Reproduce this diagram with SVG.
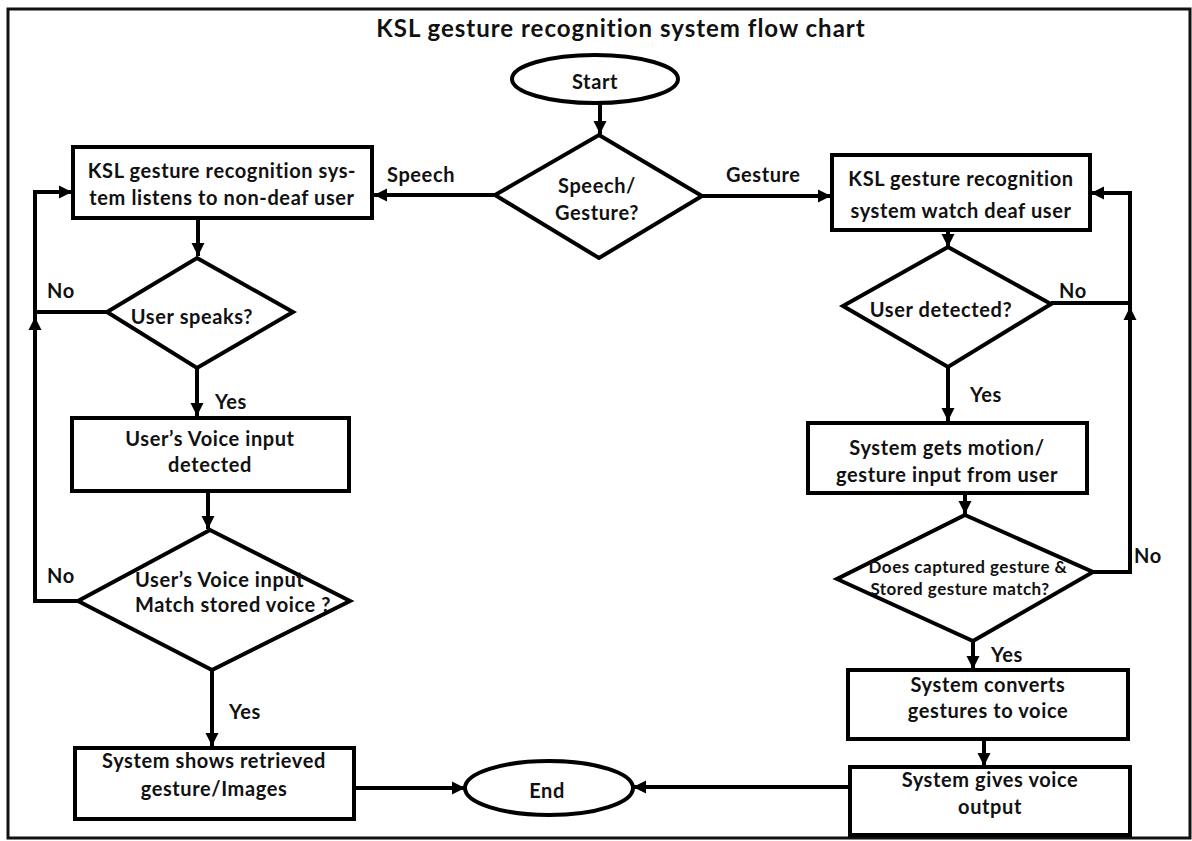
<svg xmlns="http://www.w3.org/2000/svg" width="1192" height="841" viewBox="0 0 1192 841">
<defs>
<marker id="ah" markerUnits="userSpaceOnUse" markerWidth="14" markerHeight="14" refX="13" refY="7" orient="auto" viewBox="0 0 14 14">
<path d="M0,0.5 L13,7 L0,13.5 z" fill="#000"/>
</marker>
<style>
.sh{fill:#fff;stroke:#000;stroke-width:4;stroke-linejoin:miter}
.cn{fill:none;stroke:#000;stroke-width:4}
.ar{marker-end:url(#ah)}
text{font-family:Lato,"Open Sans","Liberation Sans",sans-serif;font-weight:bold;fill:#111;font-size:20px;letter-spacing:0.6px}
.c{text-anchor:middle}
.t{font-size:24px;letter-spacing:1px}
.s{font-size:17px;letter-spacing:0.5px}
</style>
</defs>
<rect x="0" y="0" width="1192" height="841" fill="#fff"/>
<rect x="8" y="9" width="1182" height="829" fill="none" stroke="#111" stroke-width="3"/>
<text class="t c" x="621" y="37">KSL gesture recognition system flow chart</text>

<g id="connectors">
<path class="cn ar" d="M600,103 V134"/>
<path class="cn ar" d="M495,195 H374"/>
<path class="cn ar" d="M702,196 H831"/>
<path class="cn ar" d="M198,218 V256"/>
<path class="cn ar" d="M197,368 V416"/>
<path class="cn ar" d="M208,491 V529"/>
<path class="cn ar" d="M212,670 V746"/>
<path class="cn ar" d="M354,788 H465"/>
<path class="cn" d="M107,312 H35"/>
<path class="cn ar" d="M78,601 H35 V317"/>
<path class="cn ar" d="M35,317 V192 H72"/>
<path class="cn ar" d="M948,230 V247"/>
<path class="cn ar" d="M948,368 V421"/>
<path class="cn ar" d="M965,493 V514"/>
<path class="cn ar" d="M973,642 V669"/>
<path class="cn ar" d="M984,739 V766"/>
<path class="cn ar" d="M850,787 H633"/>
<path class="cn" d="M1051,303 H1130"/>
<path class="cn ar" d="M1093,572 H1130 V307"/>
<path class="cn ar" d="M1130,307 V193 H1091"/>
<text x="387" y="182">Speech</text>
<text x="726" y="182">Gesture</text>
<text x="47" y="298">No</text>
<text x="215" y="409">Yes</text>
<text x="47" y="583">No</text>
<text x="229" y="719">Yes</text>
<text x="1059" y="298">No</text>
<text x="970" y="402">Yes</text>
<text x="1134" y="563">No</text>
<text x="991" y="662">Yes</text>
</g>

<g id="start">
<ellipse class="sh" cx="595" cy="79" rx="83" ry="24"/>
<text class="c" x="595" y="89">Start</text>
</g>

<g id="speech-gesture">
<polygon class="sh" points="599,135 702,196 599,258 495,195"/>
<text class="c" x="597" y="193">Speech/</text>
<text class="c" x="597" y="220">Gesture?</text>
</g>

<g id="listen">
<rect class="sh" x="73" y="147" width="299" height="71"/>
<text class="c" x="222" y="178">KSL gesture recognition sys-</text>
<text class="c" x="222" y="205">tem listens to non-deaf user</text>
</g>

<g id="user-speaks">
<polygon class="sh" points="197,258 293,312 197,368 107,312"/>
<text class="c" x="192" y="324">User speaks?</text>
</g>

<g id="voice-detected">
<rect class="sh" x="72" y="418" width="277" height="73"/>
<text class="c" x="210" y="446">User’s Voice input</text>
<text class="c" x="210" y="472">detected</text>
</g>

<g id="voice-match">
<polygon class="sh" points="210,530 350,601 212,670 78,601"/>
<text x="135" y="587">User’s Voice input</text>
<text x="135" y="612">Match stored voice ?</text>
</g>

<g id="shows-gesture">
<rect class="sh" x="75" y="748" width="279" height="71"/>
<text class="c" x="214" y="768">System shows retrieved</text>
<text class="c" x="214" y="796">gesture/Images</text>
</g>

<g id="end">
<ellipse class="sh" cx="549" cy="788" rx="84" ry="27"/>
<text class="c" x="547" y="798">End</text>
</g>

<g id="watch">
<rect class="sh" x="832" y="155" width="258" height="75"/>
<text class="c" x="961" y="186">KSL gesture recognition</text>
<text class="c" x="961" y="218">system watch deaf user</text>
</g>

<g id="user-detected">
<polygon class="sh" points="948,247 1051,304 948,367 843,306"/>
<text class="c" x="941" y="317">User detected?</text>
</g>

<g id="gets-motion">
<rect class="sh" x="808" y="423" width="279" height="70"/>
<text class="c" x="947" y="455">System gets motion/</text>
<text class="c" x="947" y="482">gesture input from user</text>
</g>

<g id="gesture-match">
<polygon class="sh" points="965,515 1093,572 973,641 837,579"/>
<text class="s c" x="968" y="573">Does captured gesture &amp;</text>
<text class="s c" x="960" y="595">Stored gesture match?</text>
</g>

<g id="converts">
<rect class="sh" x="848" y="670" width="280" height="69"/>
<text class="c" x="988" y="692">System converts</text>
<text class="c" x="988" y="718">gestures to voice</text>
</g>

<g id="voice-output">
<rect class="sh" x="850" y="767" width="280" height="68"/>
<text class="c" x="990" y="787">System gives voice</text>
<text class="c" x="990" y="814">output</text>
</g>
</svg>
